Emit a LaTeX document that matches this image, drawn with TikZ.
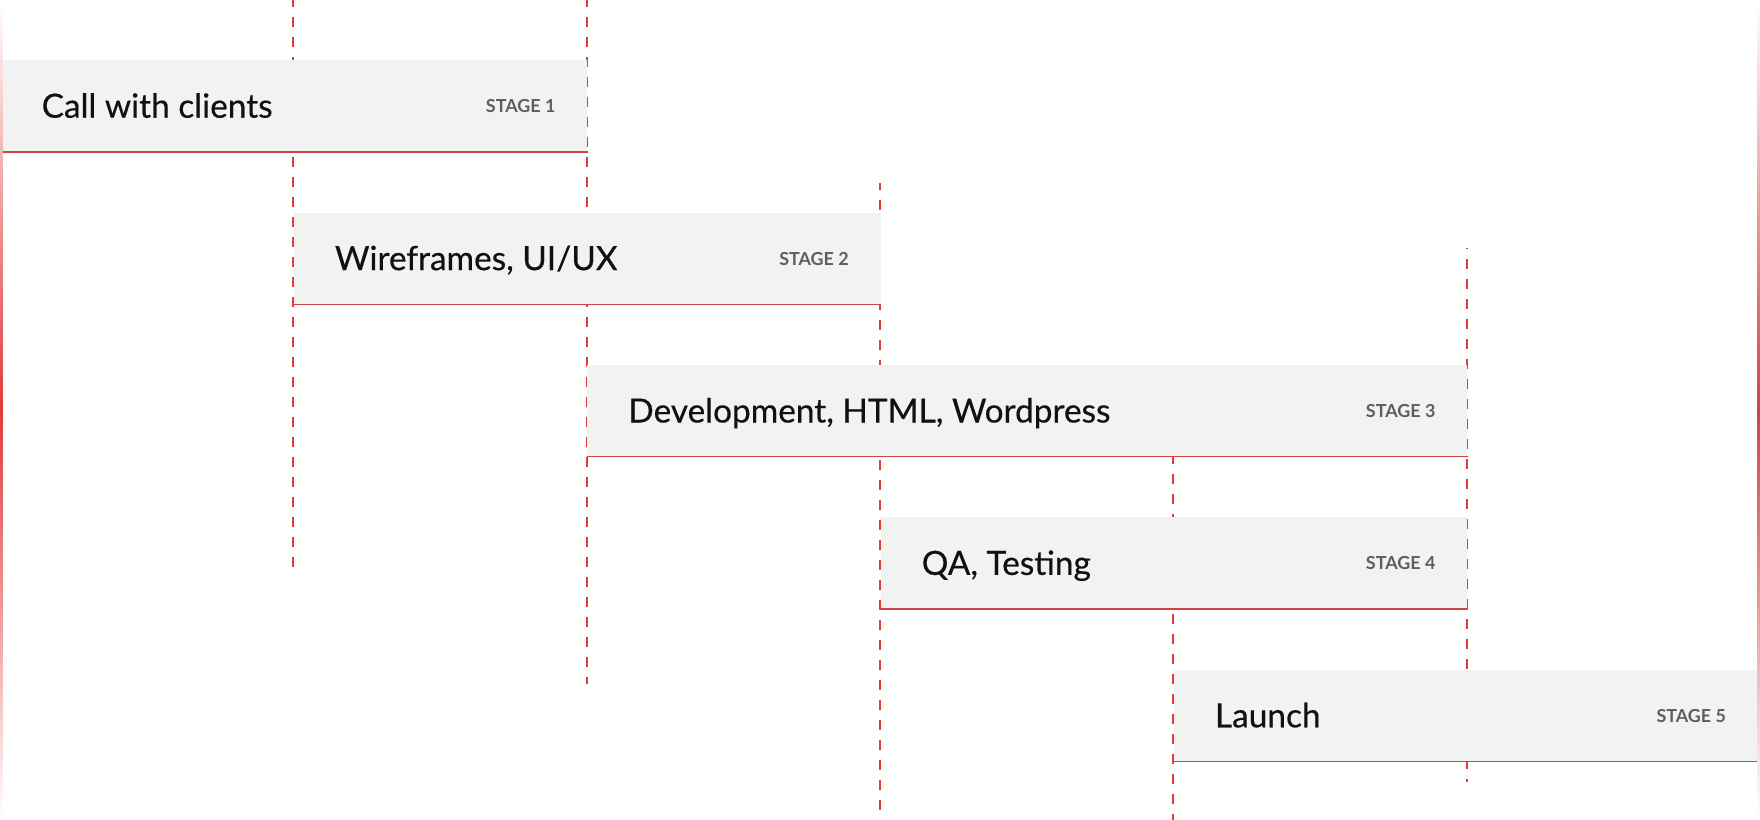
\documentclass[tikz,border=0pt]{standalone}
\usepackage{fontspec}
\setmainfont{Lato}
\newfontfamily\titlefont{Lato}[FakeBold=0.4]
\usetikzlibrary{positioning}

\definecolor{barfill}{HTML}{F2F2F2}
\definecolor{guidered}{HTML}{E03A3A}
\definecolor{linered}{HTML}{D04343}
\definecolor{stagegray}{HTML}{5E5E5E}
\definecolor{titleblack}{HTML}{111111}

\tikzset{
  guide/.style={draw=guidered, line width=0.5pt, dash pattern=on 1mm off 1mm, dash phase=0.33mm},
  barline/.style={draw=linered, line width=0.4pt},
  stagebar/.style={rectangle, fill=barfill, inner sep=0pt, minimum height=0.91cm, anchor=north west},
  stagetitle/.style={anchor=base west, inner sep=0pt, text=titleblack, font=\titlefont\fontsize{9.5pt}{11pt}\selectfont, xshift=4.1mm, yshift=-1.2mm},
  stagelabel/.style={anchor=base east, inner sep=0pt, text=stagegray, font=\fontsize{5.1pt}{6pt}\selectfont\bfseries, xshift=-3.2mm, yshift=-0.7mm}
}

\begin{document}
\begin{tikzpicture}

\useasboundingbox (0,0) rectangle (17.6,-8.2);

% dashed column guides (behind the bars)
\coordinate (c1top) at ( 2.933, 0);
\coordinate (c1bot) at ( 2.933, -5.67);
\coordinate (c2top) at ( 5.867, 0);
\coordinate (c2bot) at ( 5.867, -6.84);
\coordinate (c3top) at ( 8.8, -1.83);
\coordinate (c3bot) at ( 8.8, -8.2);
\coordinate (c4top) at (11.733, -4.57);
\coordinate (c4bot) at (11.733, -8.2);
\coordinate (c5top) at (14.667, -2.48);
\coordinate (c5bot) at (14.667, -7.82);
\draw[guide] (c1top) -- (c1bot);
\draw[guide] (c2top) -- (c2bot);
\draw[guide] (c3top) -- (c3bot);
\draw[guide] (c4top) -- (c4bot);
\draw[guide, dash phase=0.9mm] (c5top) -- (c5bot);

% stage 1
\node[stagebar, minimum width=5.867cm] at ( 0, -0.595) (bar1) {};
\node[stagetitle] at (bar1.west) (title1) {Call with clients};
\node[stagelabel] at (bar1.east) (label1) {STAGE 1};
\draw[barline] (bar1.south west) -- (bar1.south east);

% stage 2
\node[stagebar, minimum width=5.867cm] at ( 2.933, -2.119) (bar2) {};
\node[stagetitle] at (bar2.west) (title2) {Wireframes, UI/UX};
\node[stagelabel] at (bar2.east) (label2) {STAGE 2};
\draw[barline] (bar2.south west) -- (bar2.south east);

% stage 3
\node[stagebar, minimum width=8.8cm] at ( 5.867, -3.643) (bar3) {};
\node[stagetitle] at (bar3.west) (title3) {Development, HTML, Wordpress};
\node[stagelabel] at (bar3.east) (label3) {STAGE 3};
\draw[barline] (bar3.south west) -- (bar3.south east);

% stage 4
\node[stagebar, minimum width=5.867cm] at ( 8.8, -5.167) (bar4) {};
\node[stagetitle] at (bar4.west) (title4) {QA, Testing};
\node[stagelabel] at (bar4.east) (label4) {STAGE 4};
\draw[barline] (bar4.south west) -- (bar4.south east);

% stage 5
\node[stagebar, minimum width=5.84cm] at (11.733, -6.691) (bar5) {};
\node[stagetitle] at (bar5.west) (title5) {Launch};
\node[stagelabel] at (bar5.east) (label5) {STAGE 5};
\draw[barline] (bar5.south west) -- (bar5.south east);

% faded red page edges
\shade[top color=white, bottom color=white, middle color=guidered] (0,0) rectangle (0.025,-8.2);
\shade[top color=white, bottom color=white, middle color=linered] (17.57,0) rectangle (17.6,-8.2);

\end{tikzpicture}
\end{document}
